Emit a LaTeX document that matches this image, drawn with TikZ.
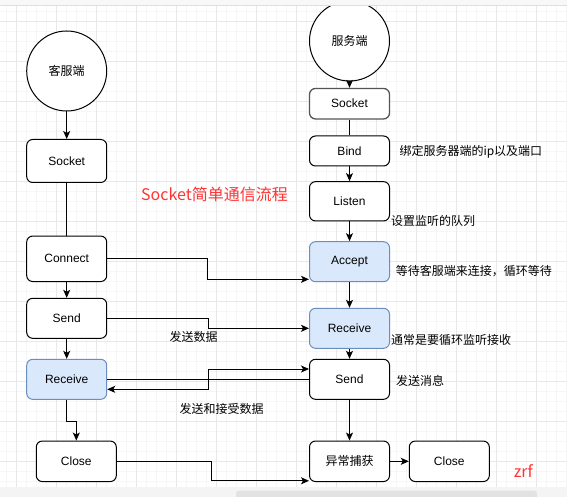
\documentclass[tikz,border=0pt]{standalone}
\usepackage{fontspec}
\setmainfont{Liberation Sans}
\newfontfamily\cjk{Noto Sans CJK SC}
\usetikzlibrary{arrows.meta}
\definecolor{bluefill}{RGB}{218,232,252}
\definecolor{bluedraw}{RGB}{108,142,191}
\definecolor{redtxt}{RGB}{255,51,51}
\definecolor{gridmajor}{RGB}{232,232,232}
\definecolor{gridminor}{RGB}{246,246,246}
\definecolor{darkgray}{RGB}{85,85,85}
\definecolor{bandtop}{RGB}{248,248,248}
\definecolor{bandline}{RGB}{222,222,222}
\definecolor{bandbot}{RGB}{244,244,244}
\definecolor{scrollc}{RGB}{226,226,226}
\tikzset{
  box/.style={rectangle, rounded corners=6pt, draw=black, line width=1pt, minimum width=80pt, inner sep=0pt, fill=white, font=\fontsize{12pt}{14pt}\selectfont},
  bluebox/.style={box, fill=bluefill, draw=bluedraw},
  startcirc/.style={circle, draw=black, line width=1pt, minimum size=80pt, inner sep=0pt, fill=white, font=\fontsize{12pt}{14pt}\selectfont\cjk},
  arr/.style={line width=1pt, -{Stealth[length=8pt,width=7pt,inset=2pt]}},
  ln/.style={line width=1pt},
  note/.style={anchor=west, inner sep=0pt, font=\fontsize{12pt}{14pt}\selectfont\cjk},
  redlabel/.style={inner sep=0pt, text=redtxt, font=\fontsize{16pt}{18pt}\selectfont\cjk}
}
\begin{document}
\begin{tikzpicture}[x=1pt,y=-1pt]
\useasboundingbox (0,0) rectangle (567,497);
\fill[white] (0,0) rectangle (567,497);
% grid
\foreach \x in {6.7,16.7,...,566.7} \draw[gridminor, line width=0.6pt] (\x,6) -- (\x,487);
\foreach \y in {11.7,21.7,...,486} \draw[gridminor, line width=0.6pt] (0,\y) -- (567,\y);
\foreach \x in {16.7,56.7,...,566.7} \draw[gridmajor, line width=0.8pt] (\x,6) -- (\x,487);
\foreach \y in {21.7,61.7,...,486} \draw[gridmajor, line width=0.8pt] (0,\y) -- (567,\y);

% left column
\node[startcirc] (cl) at (66.7,71) {客服端};
\node[box, minimum height=43pt] (ls) at (66.7,161) {Socket};
\node[box, minimum height=45.5pt] (lc) at (66.7,258.8) {Connect};
\node[box, minimum height=40pt] (lsend) at (66.7,318.3) {Send};
\node[bluebox, minimum height=40pt] (lrecv) at (66.7,379.3) {Receive};
\node[box, minimum height=40.5pt] (lclose) at (76.3,461.3) {Close};

% right column
\node[startcirc] (rc) at (349.5,41) {服务端};
\node[box, draw=darkgray, line width=1.3pt, minimum height=30.5pt] (rs) at (349.5,103.7) {Socket};
\node[box, minimum height=30pt] (rb) at (349.5,151) {Bind};
\node[box, minimum height=39.3pt] (rl) at (349.5,201.3) {Listen};
\node[bluebox, minimum height=40pt] (ra) at (349.5,261.7) {Accept};
\node[bluebox, minimum height=40pt] (rr) at (349.5,328.3) {Receive};
\node[box, minimum height=40pt] (rsend) at (349.5,379.3) {Send};
\node[box, minimum height=40.5pt, font=\fontsize{12pt}{14pt}\selectfont\cjk] (rex) at (349.5,461.3) {异常捕获};
\node[box, minimum height=40.5pt] (rclose) at (449.3,461.3) {Close};

% left connectors
\draw[arr] (cl.south) -- (ls.north);
\draw[ln] (ls.south) -- (lc.north);
\draw[arr] (lc.south) -- (lsend.north);
\draw[arr] (lsend.south) -- (lrecv.north);
\draw[arr] (lrecv.south) -- ++(0,21.4) -| (lclose.north);

% cross connectors
\draw[arr] (lc.east) -- ++(100,0) |- ([yshift=-17.6pt]ra.west);
\draw[arr] (lsend.east) -- ++(101.6,0) |- (rr.west);
\draw[arr] (lrecv.east) -- ++(101.6,0) |- ([yshift=10.3pt]rsend.west);
\draw[arr] (rsend.west) -- ++(-101,0) |- ([yshift=-10pt]lrecv.east);
\draw[arr] (lclose.east) -- ++(95,0) |- ([yshift=-19.5pt]rex.west);

% right connectors
\draw[arr] (rc.south) -- (rs.north);
\draw[ln] (rs.south) -- (rb.north);
\draw[arr] (rb.south) -- (rl.north);
\draw[arr] (rl.south) -- (ra.north);
\draw[arr] (ra.south) -- (rr.north);
\draw[arr] (rr.south) -- (rsend.north);
\draw[arr] (rsend.south) -- (rex.north);
\draw[arr] (rex.east) -- (rclose.west);

% notes
\node[note] (n1) at (399.3,152) {绑定服务器端的ip以及端口};
\node[note] (n2) at (391,221) {设置监听的队列};
\node[note] (n3) at (395.7,270.7) {等待客服端来连接，循环等待};
\node[note] (n4) at (391,340) {通常是要循环监听接收};
\node[note] (n5) at (396,380.7) {发送消息};
\node[note, anchor=center] (n6) at (193.7,337.3) {发送数据};
\node[note, anchor=center] (n7) at (221.7,409) {发送和接受数据};
\node[redlabel, anchor=west] (title) at (141,194.3) {Socket简单通信流程};
\node[redlabel] (zrf) at (523.3,471) {zrf};

% window chrome
\fill[bandtop] (0,0) rectangle (567,6);
\draw[bandline, line width=1pt] (0,6) -- (567,6);
\fill[bandbot] (0,487) rectangle (567,497);
\fill[scrollc, rounded corners=3pt] (236,490.7) rectangle (537,500);
\end{tikzpicture}
\end{document}
